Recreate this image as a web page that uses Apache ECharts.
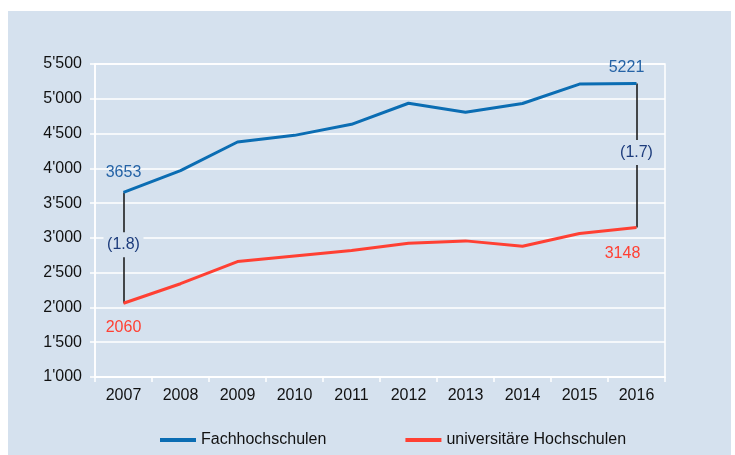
<!DOCTYPE html>
<html>
<head>
<meta charset="utf-8">
<script src="https://cdn.jsdelivr.net/npm/echarts@6/dist/echarts.min.js"></script>
<style>
  html, body { margin: 0; padding: 0; background: #fff; }
  #main { width: 735px; height: 455px; }
</style>
</head>
<body>
<div id="main"></div>
<script>
// data
const years = ['2007', '2008', '2009', '2010', '2011', '2012', '2013', '2014', '2015', '2016'];
const fachhochschulen = [3653, 3968, 4379, 4474, 4633, 4936, 4806, 4932, 5211, 5221];
const uniHochschulen = [2060, 2341, 2659, 2740, 2818, 2924, 2957, 2880, 3064, 3148];
const ratioLabels = ['(1.8)', '(1.7)'];
const yTicks = { min: 1000, max: 5500, interval: 500 };

const bg = '#d5e1ee';
const blue = '#0b6db3';
const red = '#ff4033';
const fs = 16;

let chart = echarts.init(document.getElementById('main'));

// first + last point get a value label
function withEndLabels(values, pos, color, dist, lastOffset) {
  return values.map(function (v, i) {
    if (i === 0 || i === values.length - 1) {
      return {
        value: v,
        label: {
          show: true,
          position: pos,
          distance: dist,
          color: color,
          fontSize: fs,
          offset: i === 0 ? [0, 0] : lastOffset
        }
      };
    }
    return v;
  });
}

const last = years.length - 1;

let option = {
  animation: false,
  graphic: [
    {
      type: 'rect',
      z: -10,
      shape: { x: 8, y: 11, width: 723, height: 444 },
      style: { fill: bg }
    }
  ],
  textStyle: { fontFamily: 'Liberation Sans, Arial, sans-serif' },
  grid: {
    left: 95,
    right: 70,
    top: 64,
    bottom: 78,
    show: true,
    borderColor: '#fff',
    borderWidth: 1.5
  },
  legend: {
    left: 155,
    top: 427,
    itemGap: 79,
    itemWidth: 36,
    itemHeight: 4,
    icon: 'rect',
    textStyle: { fontSize: fs, color: '#111' },
    data: ['Fachhochschulen', 'universitäre Hochschulen']
  },
  xAxis: {
    type: 'category',
    data: years,
    boundaryGap: true,
    axisLine: { lineStyle: { color: '#fff', width: 1.5 } },
    axisTick: { show: true, length: 5, lineStyle: { color: '#fff', width: 1.5 } },
    axisLabel: { color: '#111', fontSize: fs, margin: 11 },
    splitLine: { show: false }
  },
  yAxis: {
    type: 'value',
    min: yTicks.min,
    max: yTicks.max,
    interval: yTicks.interval,
    axisLine: { show: true, lineStyle: { color: '#fff', width: 1.5 } },
    axisTick: { show: true, length: 5, lineStyle: { color: '#fff', width: 1.5 } },
    axisLabel: {
      color: '#111',
      fontSize: fs,
      margin: 13,
      formatter: function (v) {
        return String(v).replace(/\B(?=(\d{3})+(?!\d))/g, "'");
      }
    },
    splitLine: { lineStyle: { color: '#fff', width: 1.5 } }
  },
  series: [
    {
      name: 'Fachhochschulen',
      type: 'line',
      data: withEndLabels(fachhochschulen, 'top', '#2563a6', 12, [-10, 4]),
      symbol: 'circle',
      symbolSize: 0,
      showAllSymbol: true,
      lineStyle: { color: blue, width: 3 },
      itemStyle: { color: blue },
      z: 3,
      markLine: {
        silent: true,
        z: 1,
        symbol: 'none',
        label: { show: false },
        lineStyle: { color: '#111', width: 1.5, type: 'solid' },
        data: [
          [{ coord: [0, fachhochschulen[0]] }, { coord: [0, uniHochschulen[0]] }],
          [{ coord: [last, fachhochschulen[last]] }, { coord: [last, uniHochschulen[last]] }]
        ]
      }
    },
    {
      name: 'universitäre Hochschulen',
      type: 'line',
      data: withEndLabels(uniHochschulen, 'bottom', red, 16, [-14, 2]),
      symbol: 'circle',
      symbolSize: 0,
      showAllSymbol: true,
      lineStyle: { color: red, width: 3 },
      itemStyle: { color: red },
      z: 3
    },
    {
      // ratio labels, a background-coloured box hides the connector behind them
      type: 'scatter',
      symbol: 'rect',
      symbolSize: [40, 25],
      symbolOffset: [0, -3],
      itemStyle: { color: bg, opacity: 1 },
      silent: true,
      z: 10,
      data: [
        [0, (fachhochschulen[0] + uniHochschulen[0]) / 2, ratioLabels[0]],
        [last, (fachhochschulen[last] + uniHochschulen[last]) / 2, ratioLabels[1]]
      ],
      label: {
        show: true,
        position: 'inside',
        color: '#1d3c7c',
        fontSize: fs,
        formatter: function (p) { return p.data[2]; }
      }
    }
  ]
};

chart.setOption(option);
</script>
</body>
</html>
